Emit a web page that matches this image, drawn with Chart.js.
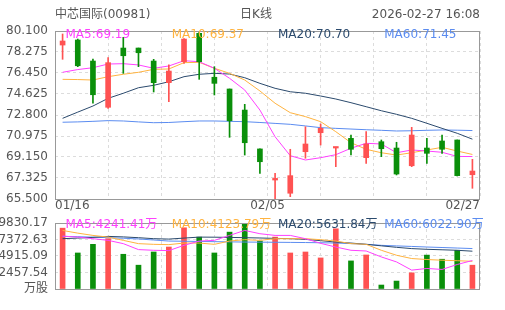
<!DOCTYPE html>
<html>
<head>
<meta charset="utf-8">
<script src="https://cdn.jsdelivr.net/npm/chart.js@4.4.0/dist/chart.umd.min.js"></script>
<style>
body { margin: 0; background: #fff; }
#kline { position: absolute; left: 0; top: 0; }
#vol { position: absolute; left: 0; top: 215px; }
</style>
</head>
<body>
<canvas id="kline" width="505" height="215"></canvas>
<canvas id="vol" width="505" height="95"></canvas>
<script>
const dates = ['01/16','01/19','01/20','01/21','01/22','01/23','01/26','01/27','01/28','01/29','01/30',
    '02/02','02/03','02/04','02/05','02/06','02/09','02/10','02/11','02/12','02/13','02/16','02/20',
    '02/23','02/24','02/25','02/26','02/27'];

const openPrices  = [78.88, 79.32, 77.49, 73.47, 78.62, 78.62, 77.49, 75.61, 77.43, 79.90, 76.08, 75.06, 73.23, 69.85,
    67.15, 66.00, 69.61, 71.26, 69.93, 70.77, 69.09, 70.48, 69.93, 68.39, 69.93, 70.54, 70.63, 67.61];
const closePrices = [79.23, 77.08, 74.56, 77.35, 77.95, 78.21, 75.61, 76.62, 79.40, 77.43, 75.55, 72.30, 70.39, 68.74,
    67.29, 67.53, 70.28, 71.64, 70.00, 69.82, 70.28, 69.87, 67.67, 71.06, 69.47, 69.82, 67.53, 67.93];
const highPrices  = [79.84, 79.40, 77.67, 77.78, 79.55, 78.62, 77.64, 77.15, 79.45, 80.10, 77.00, 75.06, 73.73, 69.85,
    67.73, 69.82, 71.78, 72.02, 70.00, 71.06, 71.35, 70.63, 70.43, 71.73, 70.77, 71.06, 70.63, 68.95];
const lowPrices   = [77.64, 77.00, 73.82, 73.38, 76.42, 77.00, 74.80, 73.96, 77.29, 75.90, 74.54, 70.86, 69.32, 67.73,
    65.50, 65.70, 69.04, 70.19, 68.31, 69.32, 68.60, 69.18, 67.59, 68.31, 68.60, 69.47, 67.50, 66.43];

const ma5  = [76.51, 76.75, 76.91, 77.23, 77.26, 77.15, 76.86, 77.06, 77.52, 77.43, 76.86, 75.99, 74.97, 73.23,
    70.91, 69.26, 68.89, 69.09, 69.35, 69.91, 70.34, 70.28, 69.52, 69.76, 69.67, 69.56, 69.20, 69.19];
const ma10 = [75.90, 75.88, 75.84, 76.13, 76.34, 76.51, 76.77, 76.80, 77.35, 77.38, 76.86, 76.42, 75.84, 74.89,
    73.82, 73.00, 72.66, 72.22, 71.35, 70.39, 69.82, 69.52, 69.32, 69.52, 69.76, 69.99, 69.67, 69.37];
const ma20 = [72.51, 73.05, 73.58, 74.25, 74.69, 75.17, 75.38, 75.69, 76.13, 76.34, 76.42, 76.36, 76.04, 75.55,
    75.12, 74.82, 74.69, 74.45, 74.19, 73.87, 73.52, 73.17, 72.86, 72.51, 72.08, 71.64, 71.21, 70.70];
const ma60 = [72.17, 72.20, 72.25, 72.31, 72.28, 72.20, 72.13, 72.15, 72.22, 72.28, 72.28, 72.25, 72.22, 72.15,
    72.07, 71.99, 71.85, 71.70, 71.64, 71.58, 71.52, 71.47, 71.41, 71.43, 71.47, 71.50, 71.48, 71.45];

// volumes in 万股
const volumes = [9061, 5366, 6652, 7494, 5173, 3547, 5513, 6253, 9120, 7731, 5366, 8470, 9830.17, 7140,
    7731, 5366, 5513, 4627, 8972, 4183, 5070, 591, 1183, 2409, 5050, 4435, 5766, 3547];
const volMa5  = [7879, 7731, 7494, 7243, 6755, 5868, 5765, 5720, 6504, 7140, 7243, 7982, 8721, 8234,
    7982, 7982, 7494, 6800, 6253, 5765, 5661, 4775, 4035, 2809, 3060, 2912, 3651, 4241.41];
const volMa10 = [8721, 8322, 7982, 7731, 7243, 6755, 6652, 6607, 6844, 6844, 6652, 7140, 7347, 7243,
    7494, 7494, 7494, 7347, 7140, 6755, 6652, 5765, 5026, 4538, 4390, 4287, 4213, 4123.79];
const volMa20 = [7494, 7583, 7687, 7834, 7760, 7642, 7494, 7435, 7583, 7731, 7716, 7687, 7642, 7598,
    7539, 7494, 7391, 7199, 6992, 6844, 6652, 6430, 6208, 6016, 5913, 5839, 5765, 5631.84];
const volMa60 = [7834, 7790, 7720, 7642, 7560, 7450, 7300, 7140, 7110, 7080, 7050, 7020, 6992, 6975,
    6960, 6940, 6920, 6890, 6844, 6760, 6660, 6504, 6420, 6340, 6253, 6180, 6100, 6022.90];

const priceTicks = [65.5, 67.325, 69.15, 70.975, 72.8, 74.625, 76.45, 78.275, 80.1];
const volTicks = [0, 2457.54, 4915.09, 7372.63, 9830.17];

const RED = '#ff5252';
const GREEN = '#0a8f0a';
const maColors = ['#ff40ff', '#ffb33f', '#2b4a6d', '#5b8cf0'];

Chart.defaults.font.family = "'DejaVu Sans', 'Noto Sans CJK SC', sans-serif";
Chart.defaults.font.size = 12;
Chart.defaults.color = '#555';

function points(arr) {
    return arr.map((v, i) => ({ x: i, y: v }));
}

function upColors() {
    return closePrices.map((c, i) => c >= openPrices[i] ? RED : GREEN);
}

function maLine(arr, color, order) {
    return {
        type: 'line',
        data: points(arr),
        borderColor: color,
        borderWidth: 1,
        pointRadius: 0,
        tension: 0,
        order: order
    };
}

function xAxis(showLabels) {
    return {
        type: 'linear',
        min: -0.5,
        max: dates.length - 0.5,
        offset: false,
        afterBuildTicks: function(axis) {
            const t = [];
            for (let k = 0; k <= 8; k++) t.push({ value: -0.5 + k * dates.length / 8 });
            axis.ticks = t;
        },
        afterFit: function(axis) { axis.height = showLabels ? 16 : 21; },
        grid: { color: '#dcdcdc', drawTicks: false, offset: false },
        border: { display: false, dash: [3, 3] },
        ticks: {
            display: showLabels,
            autoSkip: false,
            maxRotation: 0,
            align: 'inner',
            padding: 0,
            callback: function(v, i) {
                if (i === 0) return dates[0];
                if (i === 4) return dates[Math.floor(dates.length / 2)];
                if (i === 8) return dates[dates.length - 1];
                return '';
            }
        }
    };
}

function yAxis(ticks, fmt) {
    return {
        min: ticks[0],
        max: ticks[ticks.length - 1],
        afterBuildTicks: function(axis) { axis.ticks = ticks.map(v => ({ value: v })); },
        afterFit: function(axis) { axis.width = 55; },
        // invisible tick marks keep the labels off the frame without padding the plot
        grid: { color: '#dcdcdc', drawTicks: true, tickLength: 7, tickColor: 'rgba(0,0,0,0)' },
        border: { display: false, dash: [3, 3] },
        ticks: { padding: 0, autoSkip: false, callback: fmt }
    };
}

// frame round the plot and the MA values written on top
function overlay(labels, dy, title) {
    return {
        id: 'overlay',
        afterDraw: function(chart) {
            const ctx = chart.ctx;
            const a = chart.chartArea;
            ctx.save();
            ctx.strokeStyle = '#999';
            ctx.lineWidth = 1;
            ctx.strokeRect(a.left + 0.5, a.top + 0.5, a.right - a.left - 1, a.bottom - a.top);
            ctx.font = "12px 'DejaVu Sans', 'Noto Sans CJK SC', sans-serif";
            ctx.textBaseline = 'top';
            ctx.textAlign = 'left';
            for (let k = 0; k < labels.length; k++) {
                ctx.fillStyle = maColors[k];
                ctx.fillText(labels[k], a.left + (a.right - a.left) * k / 4 + 10.5, a.top + dy);
            }
            if (title) {
                ctx.fillStyle = '#555';
                ctx.textBaseline = 'middle';
                ctx.fillText(title[0], a.left, 15);
                ctx.textAlign = 'center';
                ctx.fillText(title[1], 256, 15);
                ctx.textAlign = 'right';
                ctx.fillText(title[2], a.right, 15);
            }
            ctx.restore();
        }
    };
}

const last = dates.length - 1;

new Chart(document.getElementById('kline'), {
    type: 'bar',
    data: {
        datasets: [
            {
                data: dates.map((d, i) => ({ x: i, y: [openPrices[i], closePrices[i]] })),
                backgroundColor: upColors(),
                barThickness: 5,
                minBarLength: 1.5,
                grouped: false,
                order: 0
            },
            {
                data: dates.map((d, i) => ({ x: i, y: [lowPrices[i], highPrices[i]] })),
                backgroundColor: upColors(),
                barThickness: 1,
                grouped: false,
                order: 1
            },
            maLine(ma5, maColors[0], 2),
            maLine(ma10, maColors[1], 3),
            maLine(ma20, maColors[2], 4),
            maLine(ma60, maColors[3], 5)
        ]
    },
    options: {
        responsive: false,
        animation: false,
        devicePixelRatio: 1,
        layout: { padding: { top: 31, right: 25, left: 0, bottom: 0 } },
        scales: {
            x: xAxis(true),
            y: yAxis(priceTicks, v => v.toFixed(3))
        },
        plugins: { legend: { display: false }, tooltip: { enabled: false } }
    },
    plugins: [overlay([
        'MA5:' + ma5[last].toFixed(2),
        'MA10:' + ma10[last].toFixed(2),
        'MA20:' + ma20[last].toFixed(2),
        'MA60:' + ma60[last].toFixed(2)
    ], -2, ['中芯国际(00981)', '日K线', '2026-02-27 16:08'])]
});

new Chart(document.getElementById('vol'), {
    type: 'bar',
    data: {
        datasets: [
            maLine(volMa5, maColors[0], 0),
            maLine(volMa10, maColors[1], 1),
            maLine(volMa20, maColors[2], 2),
            maLine(volMa60, maColors[3], 3),
            {
                data: points(volumes),
                backgroundColor: upColors(),
                barThickness: 5,
                grouped: false,
                order: 4
            }
        ]
    },
    options: {
        responsive: false,
        animation: false,
        devicePixelRatio: 1,
        layout: { padding: { top: 8, right: 25, left: 0, bottom: 0 } },
        scales: {
            x: xAxis(false),
            y: yAxis(volTicks, v => v === 0 ? '万股' : v.toFixed(2))
        },
        plugins: { legend: { display: false }, tooltip: { enabled: false } }
    },
    plugins: [overlay([
        'MA5:' + volMa5[last].toFixed(2) + '万',
        'MA10:' + volMa10[last].toFixed(2) + '万',
        'MA20:' + volMa20[last].toFixed(2) + '万',
        'MA60:' + volMa60[last].toFixed(2) + '万'
    ], -4, null)]
});
</script>
</body>
</html>
